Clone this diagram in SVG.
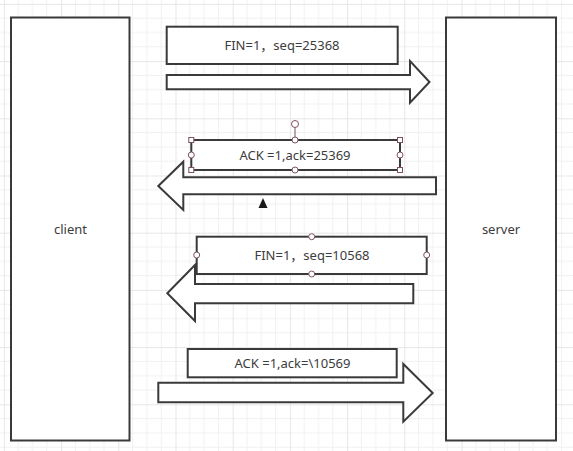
<svg xmlns="http://www.w3.org/2000/svg" width="573" height="451" viewBox="0 0 573 451">
  <defs>
    <pattern id="grid" x="3.9" y="3.9" width="57.2" height="57.2" patternUnits="userSpaceOnUse">
      <path d="M14.3 0V57.2M28.6 0V57.2M42.9 0V57.2M0 14.3H57.2M0 28.6H57.2M0 42.9H57.2" stroke="#f1f1f1" stroke-width="1" fill="none"/>
      <path d="M0.5 0V57.2M0 0.5H57.2" stroke="#e6e6e6" stroke-width="1" fill="none"/>
    </pattern>
    <style>
      .shape { fill: #ffffff; stroke: #3a3a3a; stroke-width: 2; }
      .label { font-family: "Noto Sans", "Noto Sans CJK SC", sans-serif; font-size: 13px; fill: #3c3c3c; text-anchor: middle; dominant-baseline: central; }
      .handle { fill: #ffffff; stroke: #7d5260; stroke-width: 1; }
    </style>
  </defs>
  <rect x="0" y="0" width="573" height="451" fill="#ffffff"/>
  <rect x="0" y="0" width="573" height="451" fill="url(#grid)"/>

  <g id="client">
    <rect class="shape" x="11" y="17.5" width="118.5" height="423"/>
    <text class="label" x="70.5" y="229">client</text>
  </g>
  <g id="server">
    <rect class="shape" x="446" y="17.5" width="110" height="423"/>
    <text class="label" x="501" y="229">server</text>
  </g>

  <g id="connectors">
    <polygon class="shape" points="166.7,75 410,75 410,61 429.5,82 410,102.7 410,89.3 166.7,89.3"/>
    <polygon class="shape" points="158.3,186 183.3,161.7 183.3,177.3 436,177.3 436,194.3 183.3,194.3 183.3,210"/>
    <polygon class="shape" points="167.3,293.3 195,265 195,284 413.3,284 413.3,303.3 195,303.3 195,321"/>
    <polygon class="shape" points="158.3,382.7 403.3,382.7 403.3,364 432.7,393 403.3,421.7 403.3,402.3 158.3,402.3"/>
  </g>

  <g id="msg1">
    <rect class="shape" x="166.7" y="26.7" width="231" height="37.3"/>
    <text class="label" x="282" y="45">FIN=1，seq=25368</text>
  </g>

  <g id="msg2">
    <rect class="shape" x="191.3" y="140" width="208.7" height="30"/>
    <text class="label" x="295" y="155">ACK =1,ack=25369</text>
    <line x1="295" y1="127.5" x2="295" y2="140" stroke="#7d5260" stroke-width="1"/>
    <circle class="handle" cx="295" cy="124" r="3.5"/>
    <rect class="handle" x="188.8" y="137.5" width="5" height="5"/>
    <rect class="handle" x="397.5" y="137.5" width="5" height="5"/>
    <rect class="handle" x="188.8" y="167.5" width="5" height="5"/>
    <rect class="handle" x="397.5" y="167.5" width="5" height="5"/>
    <circle class="handle" cx="295" cy="140" r="3"/>
    <circle class="handle" cx="295" cy="170" r="3"/>
    <circle class="handle" cx="191.3" cy="155" r="3"/>
    <circle class="handle" cx="400" cy="155" r="3"/>
    <polygon points="263,198 267.5,208 258.5,208" fill="#1a1a1a"/>
  </g>

  <g id="msg3">
    <rect class="shape" x="196.7" y="236.7" width="230" height="37.3"/>
    <text class="label" x="312" y="255">FIN=1，seq=10568</text>
    <circle class="handle" cx="311.7" cy="236.7" r="3"/>
    <circle class="handle" cx="311.7" cy="274" r="3"/>
    <circle class="handle" cx="196.7" cy="255" r="3"/>
    <circle class="handle" cx="426.7" cy="255" r="3"/>
  </g>

  <g id="msg4">
    <rect class="shape" x="187.7" y="349" width="209" height="28.3"/>
    <text class="label" x="292.5" y="363">ACK =1,ack=\10569</text>
  </g>
</svg>
